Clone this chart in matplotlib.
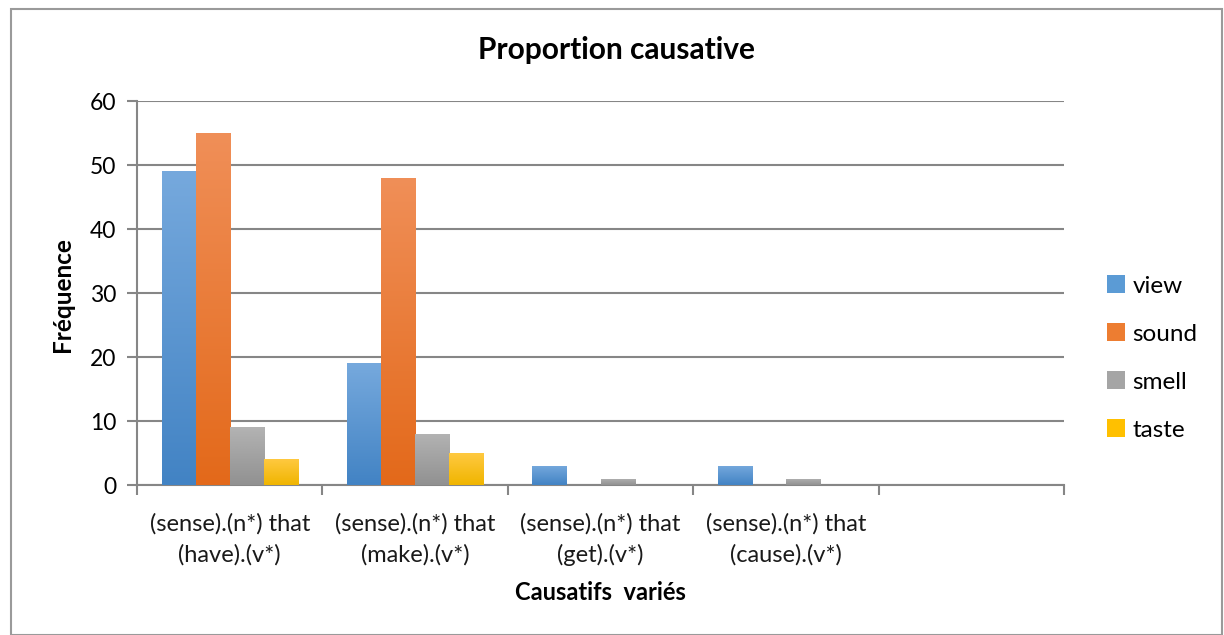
import numpy as np
import matplotlib
matplotlib.use("Agg")
import matplotlib.pyplot as plt
from matplotlib.patches import Rectangle
from matplotlib.colors import LinearSegmentedColormap

categories = ["(sense).(n*) that\n(have).(v*)", "(sense).(n*) that\n(make).(v*)",
              "(sense).(n*) that\n(get).(v*)", "(sense).(n*) that\n(cause).(v*)", ""]
series = ["view", "sound", "smell", "taste"]
view = [49, 19, 3, 3, 0]
sound = [55, 48, 0, 0, 0]
smell = [9, 8, 1, 1, 0]
taste = [4, 5, 0, 0, 0]
yticks = [0, 10, 20, 30, 40, 50, 60]

values = [view, sound, smell, taste]
top_colors = ["#76A9DD", "#F08F58", "#B3B3B3", "#FFC940"]
bot_colors = ["#4283C4", "#E3691A", "#919191", "#F0B500"]
legend_colors = ["#5B9BD5", "#ED7D31", "#A5A5A5", "#FFC000"]

plt.rcParams['font.family'] = ['Lato', 'DejaVu Sans']
fig = plt.figure(figsize=(12.24, 6.35), dpi=100)
ax = fig.add_axes([137/1224, 1-485/635, (1064-137)/1224, (485-101)/635])

n = len(categories)
x = np.arange(n)
bw = 0.735 / 4
grad = np.linspace(1, 0, 256).reshape(-1, 1)
for i, (vals, name) in enumerate(zip(values, series)):
    pos = x - 0.735/2 + bw*(i + 0.5)
    bars = ax.bar(pos, vals, width=bw, color=legend_colors[i], label=name, zorder=2, linewidth=0)
    cmap = LinearSegmentedColormap.from_list("g%d" % i, [bot_colors[i], top_colors[i]])
    for b in bars:
        h = b.get_height()
        if h <= 0:
            continue
        x0 = b.get_x()
        im = ax.imshow(grad, extent=[x0, x0 + b.get_width(), 0, h], aspect='auto',
                       cmap=cmap, zorder=3, interpolation='bicubic', origin='upper')
        im.set_clip_path(b)

ax.set_xlim(-0.5, n - 0.5)
ax.set_ylim(0, 60)
ax.set_yticks(yticks)
ax.yaxis.grid(True, color="#868686", linewidth=1.5, zorder=0)
ax.set_axisbelow(True)
ax.set_xticks(x)
ax.set_xticklabels(categories, fontsize=17, color="#1a1a1a", linespacing=1.55)
ax.set_xticks(np.arange(-0.5, n, 1.0), minor=True)
ax.tick_params(axis='x', which='major', length=0, pad=20)
ax.tick_params(axis='x', which='minor', length=7, width=1.5, color="#868686")
ax.tick_params(axis='y', length=7, width=1.5, color="#868686", labelsize=16.5, pad=8)
for s in ["top", "right"]:
    ax.spines[s].set_visible(False)
for s in ["left", "bottom"]:
    ax.spines[s].set_color("#868686")
    ax.spines[s].set_linewidth(1.5)

fig.text(617/1224, 1-50/635, "Proportion causative", ha='center', va='center',
         fontsize=21.5, fontweight='bold')
fig.text(62/1224, 1-295/635, "Fréquence", rotation=90, ha='center', va='center',
         fontsize=17.5, fontweight='bold')
fig.text(600/1224, 1-593/635, "Causatifs  variés", ha='center', va='center',
         fontsize=17, fontweight='bold')

leg = ax.legend(loc='center left', bbox_to_anchor=(1085/1224, 1-358/635),
                bbox_transform=fig.transFigure, frameon=False, fontsize=17.5,
                handlelength=0.75, handleheight=0.75, labelspacing=1.1, handletextpad=0.3)

fig.add_artist(Rectangle((11/1224, 0), (1222-11)/1224, 1-9/635, transform=fig.transFigure,
                         fill=False, edgecolor="#9a9a9a", linewidth=1.5))
fig.savefig("out.png", dpi=100)
